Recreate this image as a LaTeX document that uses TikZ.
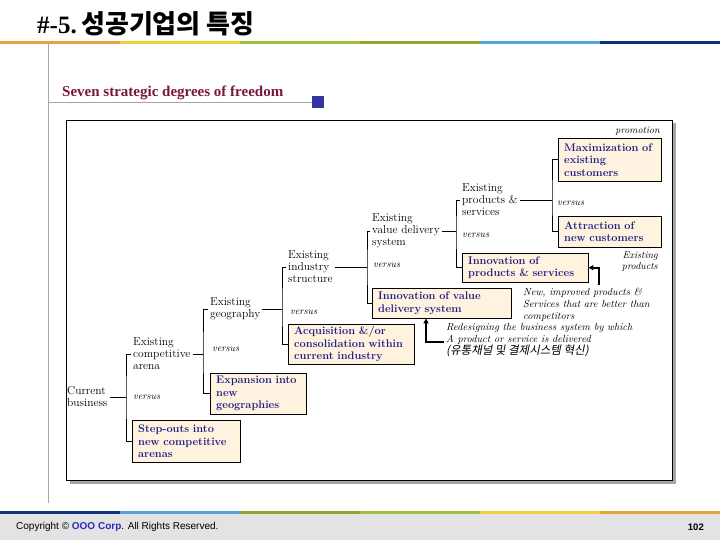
\documentclass[tikz,border=0pt]{standalone}
\usepackage{fontspec}
\usepackage{xcolor}
\usepackage{tikz}
\usetikzlibrary{arrows.meta}
\newfontfamily\krfont{Noto Sans CJK KR}
\newfontfamily\krslant{Noto Sans CJK KR}[FakeSlant=0.2]
\newfontfamily\headfont{Liberation Serif}
\newfontfamily\footfont{Liberation Sans}
\definecolor{barorange}{HTML}{E6A23C}
\definecolor{baryellow}{HTML}{F2D13E}
\definecolor{bargreen}{HTML}{9DC13A}
\definecolor{barolive}{HTML}{8CA832}
\definecolor{barblue}{HTML}{55A3DD}
\definecolor{barnavy}{HTML}{13307F}
\definecolor{footgray}{HTML}{E3E3E3}
\definecolor{sqblue}{HTML}{3535A0}
\definecolor{subred}{HTML}{7A1540}
\definecolor{boxfill}{HTML}{FFF2DF}
\definecolor{boxtext}{HTML}{1C1C85}
\definecolor{corpblue}{HTML}{2A2AC0}

\begin{document}
\begin{tikzpicture}[x=1pt, y=-1pt,
  lbl/.style={inner xsep=2pt, inner ysep=0pt, align=left, anchor=west,
              font=\fontsize{11.5}{12}\selectfont},
  vs/.style={inner sep=0pt, anchor=west, font=\fontsize{10}{11}\selectfont\itshape},
  note/.style={inner sep=0pt, align=left, anchor=west,
               font=\fontsize{10.3}{12}\selectfont\itshape},
  box/.style={draw, fill=boxfill, anchor=north west, inner xsep=6pt, inner ysep=2pt,
              align=left, text=boxtext, font=\fontsize{11}{12.5}\selectfont\bfseries},
  link/.style={line width=0.8pt},
  arr/.style={line width=1.8pt, -{Triangle[length=5pt,width=5pt]}}]
\useasboundingbox (0,0) rectangle (720,540);
% header and footer bars
\fill[footgray] (0,514) rectangle (720,540);
\foreach \c [count=\i from 0] in {barorange,baryellow,bargreen,barolive,barblue,barnavy}
  \fill[\c] (120*\i,41.5) rectangle ++(120,2.5);
\foreach \c [count=\i from 0] in {barnavy,barblue,barolive,bargreen,baryellow,barorange}
  \fill[\c] (120*\i,511) rectangle ++(120,3);
\draw[gray!70, line width=0.8pt] (48,44) -- (48,503);
\node[anchor=base west, inner sep=0pt] (title) at (37,34)
  {{\headfont\bfseries\fontsize{25}{25}\selectfont \#-5.} {\krfont\bfseries\fontsize{26}{26}\selectfont 성공기업의 특징}};
\node[anchor=base west, inner sep=0pt, text=subred,
      font=\headfont\bfseries\fontsize{15}{17}\selectfont] (sub) at (62,97) {Seven strategic degrees of freedom};
\node[fill=sqblue, minimum size=12pt, inner sep=0pt, anchor=west] (sq) at (312,102) {};
\draw[gray!70, line width=0.8pt] (48,102) -- (sq);
% frame
\fill[gray!70] (69.5,123.5) rectangle (675.5,483.5);
\draw[fill=white, line width=0.8pt] (66,120) rectangle (672,480);

\node[lbl] (cb) at (65,397) {Current\\business};
\node[lbl] (arena) at (131,354) {Existing\\competitive\\arena};
\node[vs] (vs1) at (133,397) {versus};
\node[box, text width=96pt, minimum height=42pt] (stepouts) at (132,420) {Step-outs into\\new competitive\\arenas};

\node[lbl] (geo) at (208,309) {Existing\\geography};
\node[vs] (vs2) at (212,349) {versus};
\node[box, text width=84pt, minimum height=41pt] (expgeo) at (210,373) {Expansion into\\new\\geographies};

\node[lbl] (ind) at (286,267) {Existing\\industry\\structure};
\node[vs] (vs3) at (290,312) {versus};
\node[box, text width=114pt, minimum height=40pt] (acq) at (288,324) {Acquisition \&/or\\consolidation within\\current industry};

\node[lbl] (vds) at (370,231) {Existing\\value delivery\\system};
\node[vs] (vs4) at (373,265) {versus};
\node[box, text width=127pt, minimum height=30pt] (invval) at (372,288) {Innovation of value\\delivery system};

\node[lbl] (ps) at (460,200) {Existing\\products \&\\services};
\node[vs] (vs5) at (462,235) {versus};
\node[box, text width=114pt, minimum height=29pt] (invprod) at (462,253) {Innovation of\\products \& services};

\node[vs] (vs6) at (557,203) {versus};
\node[box, text width=91pt, minimum height=43pt] (maxcust) at (558,138) {Maximization of\\existing\\customers};
\node[box, text width=91pt, minimum height=31pt] (attract) at (558,216) {Attraction of\\new customers};

\node[vs, anchor=east] (promo) at (660,131) {promotion};
\node[vs, anchor=east, align=right] (exprod) at (658,262) {Existing\\products};
\node[note] (newimp) at (523,305) {New, improved products \&\\Services that are better than\\competitors};
\node[note] (redes) at (446,340) {Redesigning the business system by which\\A product or service is delivered\\{\krslant\fontsize{11.5}{12}\selectfont (유통채널 및 결제시스템 혁신)}};

% brackets
\coordinate (k1) at (126,397);
\coordinate (k2) at (203,354);
\coordinate (k3) at (282,309);
\coordinate (k4) at (367,267);
\coordinate (k5) at (456,231);
\coordinate (k6) at (552,200);
\draw[link] (cb) -- (k1);
\draw[link] (arena.west) -| (k1) |- (stepouts.west);
\draw[link] (arena) -- (k2);
\draw[link] (geo.west) -| (k2) |- (expgeo.west);
\draw[link] (geo) -- (k3);
\draw[link] (ind.west) -| (k3) |- (acq.west);
\draw[link] (ind) -- (k4);
\draw[link] (vds.west) -| (k4) |- (invval.west);
\draw[link] (vds) -- (k5);
\draw[link] (ps.west) -| (k5) |- (invprod.west);
\draw[link] (ps) -- (k6);
\draw[link] (maxcust.west) -| (k6) |- (attract.west);

% arrows
\coordinate (a1) at (599,285);
\draw[arr] (a1) |- (invprod.east);
\coordinate (a2) at (444,342);
\coordinate (a2c) at (426,342);
\draw[arr] (a2) -- (a2c) -- (a2c |- invval.south);

% footer
\node[anchor=west, inner sep=0pt, font=\footfont\fontsize{10}{11}\selectfont] (copy) at (16,527)
  {Copyright © {\color{corpblue}\bfseries OOO Corp}. All Rights Reserved.};
\node[anchor=east, inner sep=0pt, font=\footfont\bfseries\fontsize{9.5}{10}\selectfont] (pg) at (704,527) {102};
\end{tikzpicture}
\end{document}
